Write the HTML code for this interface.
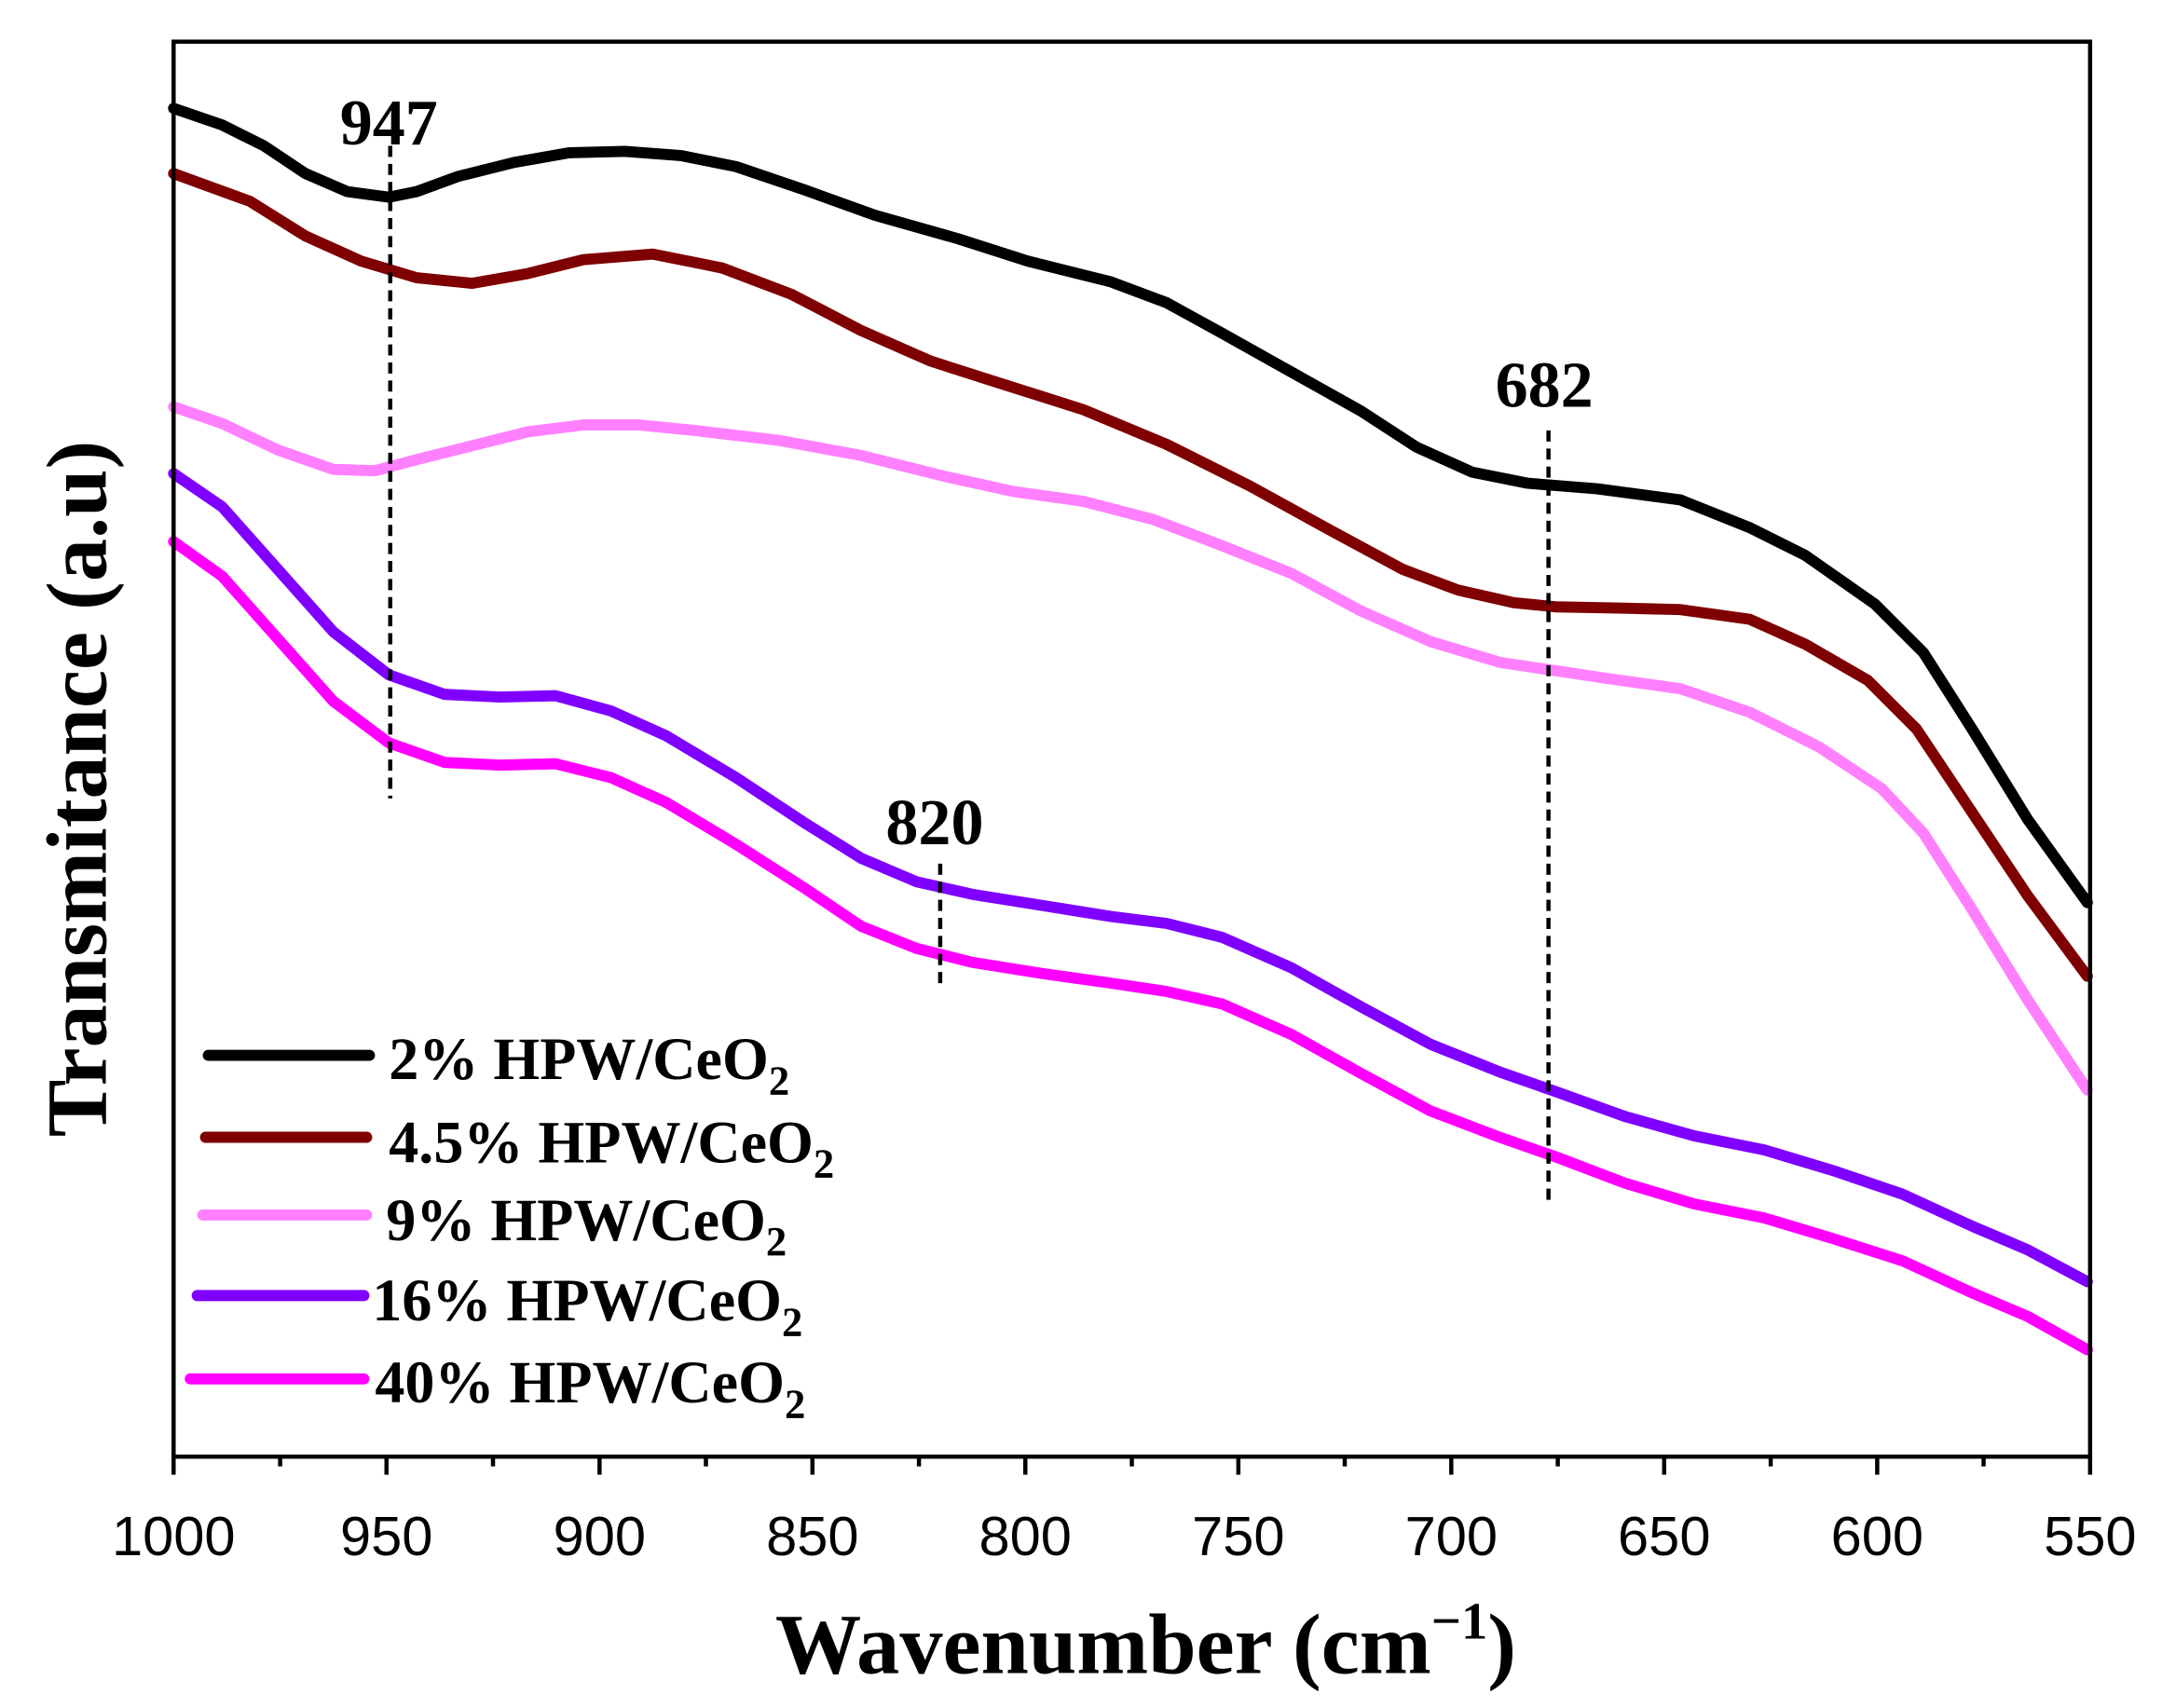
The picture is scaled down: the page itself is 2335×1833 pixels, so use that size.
<!DOCTYPE html>
<html><head><meta charset="utf-8"><style>html,body{margin:0;padding:0;background:#fff}svg{display:block}</style></head><body>
<svg width="2335" height="1833" viewBox="0 0 1566.85 1230" xmlns="http://www.w3.org/2000/svg">
<rect width="1566.85" height="1230" fill="#fff"/>
<g fill="none" stroke-width="8" stroke-linejoin="round" stroke-linecap="round">
<polyline stroke="#000" points="125,78 160,90 190,105 220,125 250,138 280,142 300,138 330,127 370,117 410,110 450,109 490,112 530,120 580,137 630,155 690,172 740,188 800,203 840,218 880,240 930,268 980,296 1020,322 1060,340 1100,348 1150,352 1210,360 1260,380 1300,400 1350,435 1385,470 1420,525 1460,590 1503,650"/>
<polyline stroke="#7f0000" points="125,125 180,145 220,170 260,188 300,200 340,204 380,197 420,187 470,183 520,193 570,212 620,238 670,260 720,276 780,295 840,320 900,350 960,383 1010,410 1050,425 1090,434 1120,437 1170,438 1210,439 1260,446 1300,464 1345,490 1380,525 1420,585 1460,645 1503,703"/>
<polyline stroke="#ff80ff" points="125,293 160,305 200,324 240,338 270,339 300,331 340,321 380,311 420,306 460,306 500,310 560,317 620,328 680,343 730,354 780,361 830,374 880,393 930,413 980,440 1030,462 1080,477 1120,483 1160,489 1210,496 1260,513 1310,538 1355,568 1385,600 1420,655 1460,720 1503,785"/>
<polyline stroke="#8000ff" points="125,341 160,365 200,410 240,455 280,486 320,500 360,502 400,501 440,512 480,530 530,560 580,593 620,618 660,635 700,644 750,652 800,660 840,665 880,675 930,697 980,725 1030,752 1080,772 1120,786 1170,804 1220,818 1270,828 1320,843 1370,860 1420,883 1460,900 1503,923"/>
<polyline stroke="#ff00ff" points="125,390 160,415 200,460 240,505 280,535 320,549 360,551 400,550 440,560 480,578 530,608 580,640 620,667 660,683 700,693 750,701 800,708 840,714 880,723 930,745 980,773 1030,800 1080,819 1120,833 1170,852 1220,867 1270,877 1320,892 1370,908 1420,931 1460,948 1503,972"/>
</g>
<g stroke="#000" stroke-width="3" stroke-dasharray="8,5">
<line x1="281" y1="105" x2="281" y2="575"/>
<line x1="1115" y1="310" x2="1115" y2="865"/>
<line x1="677" y1="622" x2="677" y2="708"/>
</g>
<g font-family="Liberation Serif, serif" font-weight="bold" font-size="47" text-anchor="middle">
<text x="280" y="104">947</text>
<text x="1112" y="293">682</text>
<text x="673" y="608">820</text>
</g>
<rect x="125" y="30" width="1380" height="1019" fill="none" stroke="#000" stroke-width="3"/>
<g stroke="#000" stroke-width="3">
<line x1="125" y1="1049" x2="125" y2="1062"/><line x1="278.3" y1="1049" x2="278.3" y2="1062"/><line x1="431.7" y1="1049" x2="431.7" y2="1062"/><line x1="585" y1="1049" x2="585" y2="1062"/><line x1="738.3" y1="1049" x2="738.3" y2="1062"/><line x1="891.7" y1="1049" x2="891.7" y2="1062"/><line x1="1045" y1="1049" x2="1045" y2="1062"/><line x1="1198.3" y1="1049" x2="1198.3" y2="1062"/><line x1="1351.7" y1="1049" x2="1351.7" y2="1062"/><line x1="1505" y1="1049" x2="1505" y2="1062"/>
<line x1="201.7" y1="1049" x2="201.7" y2="1056"/><line x1="355" y1="1049" x2="355" y2="1056"/><line x1="508.3" y1="1049" x2="508.3" y2="1056"/><line x1="661.7" y1="1049" x2="661.7" y2="1056"/><line x1="815" y1="1049" x2="815" y2="1056"/><line x1="968.3" y1="1049" x2="968.3" y2="1056"/><line x1="1121.7" y1="1049" x2="1121.7" y2="1056"/><line x1="1275" y1="1049" x2="1275" y2="1056"/><line x1="1428.3" y1="1049" x2="1428.3" y2="1056"/>
</g>
<g font-family="Liberation Sans, sans-serif" font-size="40" text-anchor="middle">
<text x="125" y="1120">1000</text><text x="278.3" y="1120">950</text><text x="431.7" y="1120">900</text><text x="585" y="1120">850</text><text x="738.3" y="1120">800</text><text x="891.7" y="1120">750</text><text x="1045" y="1120">700</text><text x="1198.3" y="1120">650</text><text x="1351.7" y="1120">600</text><text x="1505" y="1120">550</text>
</g>
<text x="825" y="1205" font-family="Liberation Serif, serif" font-weight="bold" font-size="62" text-anchor="middle">Wavenumber (cm<tspan dy="-25" font-size="38">−1</tspan><tspan dy="25">)</tspan></text>
<text transform="translate(76,568) rotate(-90)" font-family="Liberation Serif, serif" font-weight="bold" font-size="62" text-anchor="middle">Transmitance (a.u)</text>
<g stroke-width="8" stroke-linecap="round">
<line x1="150" y1="760" x2="266" y2="760" stroke="#000"/>
<line x1="148" y1="819" x2="264" y2="819" stroke="#7f0000"/>
<line x1="146" y1="875" x2="264" y2="875" stroke="#ff80ff"/>
<line x1="142" y1="933" x2="262" y2="933" stroke="#8000ff"/>
<line x1="137" y1="993" x2="262" y2="993" stroke="#ff00ff"/>
</g>
<g font-family="Liberation Serif, serif" font-weight="bold" font-size="43">
<text x="280" y="777">2% HPW/CeO<tspan dy="11" font-size="30">2</tspan></text>
<text x="280" y="837">4.5% HPW/CeO<tspan dy="11" font-size="30">2</tspan></text>
<text x="278" y="893">9% HPW/CeO<tspan dy="11" font-size="30">2</tspan></text>
<text x="268" y="951">16% HPW/CeO<tspan dy="11" font-size="30">2</tspan></text>
<text x="270" y="1010">40% HPW/CeO<tspan dy="11" font-size="30">2</tspan></text>
</g>
</svg>
</body></html>
